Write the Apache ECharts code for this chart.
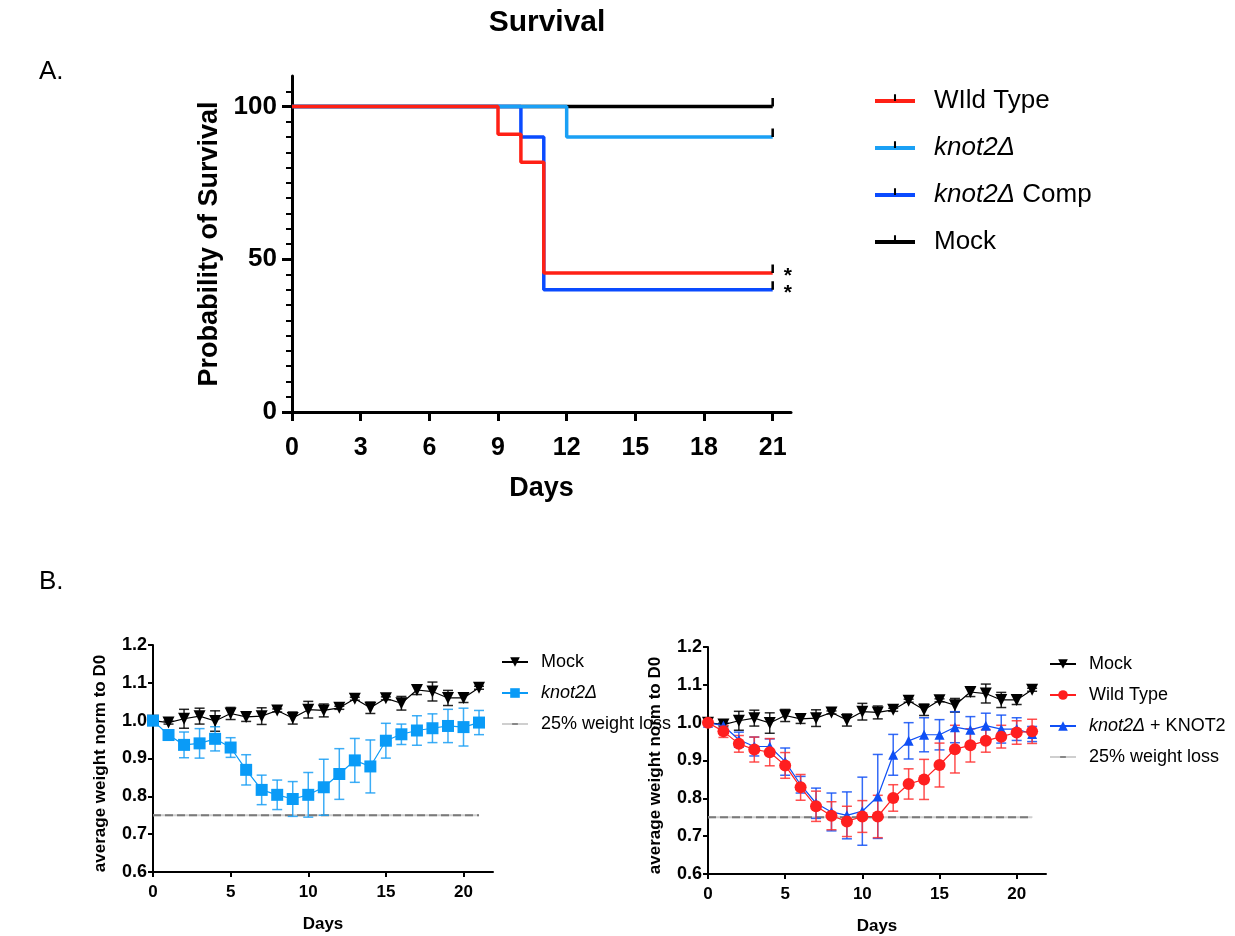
<!DOCTYPE html>
<html style="height: 100%">
<head>
<meta charset="utf-8">
<title>Survival</title>
<script src="https://cdn.jsdelivr.net/npm/echarts@6.0.0/dist/echarts.min.js"></script>
</head>
<body style="height: 100%; margin: 0; background: #fff">
<div id="container" style="width: 1235px; height: 936px"></div>
<script type="text/javascript">
// ---- A. survival (Kaplan-Meier steps) ----
var survTimesWT = [0, 9, 10, 11, 21];
var survWT = [100, 90.9, 81.8, 45.5, 45.5];
var survTimesKO = [0, 12, 21];
var survKO = [100, 90, 90];
var survTimesComp = [0, 10, 11, 21];
var survComp = [100, 90, 40, 40];
var survTimesMock = [0, 21];
var survMock = [100, 100];
var survDayTicks = [0, 3, 6, 9, 12, 15, 18, 21];
var survPctTicks = [0, 50, 100];

// ---- B. weight, normalised to day 0 ----
var days = [0, 1, 2, 3, 4, 5, 6, 7, 8, 9, 10, 11, 12, 13, 14, 15, 16, 17, 18, 19, 20, 21];
var mockMean = [1.000, 0.995, 1.005, 1.012, 0.999, 1.019, 1.010, 1.012, 1.027, 1.007, 1.029, 1.027, 1.034, 1.058, 1.034, 1.059, 1.046, 1.081, 1.077, 1.060, 1.060, 1.087];
var mockErr = [0, 0.004, 0.025, 0.021, 0.027, 0.016, 0.012, 0.022, 0.004, 0.016, 0.022, 0.017, 0.004, 0.004, 0.015, 0.004, 0.018, 0.012, 0.025, 0.020, 0.012, 0.004];
var koMean = [1.000, 0.962, 0.936, 0.940, 0.952, 0.929, 0.870, 0.817, 0.804, 0.793, 0.804, 0.824, 0.859, 0.895, 0.879, 0.947, 0.964, 0.974, 0.980, 0.986, 0.983, 0.995];
var koErr = [0, 0.013, 0.034, 0.039, 0.032, 0.026, 0.040, 0.039, 0.039, 0.046, 0.059, 0.074, 0.067, 0.058, 0.070, 0.046, 0.027, 0.039, 0.038, 0.044, 0.050, 0.032];
var wtMean = [1.000, 0.977, 0.944, 0.929, 0.922, 0.887, 0.829, 0.779, 0.754, 0.739, 0.752, 0.752, 0.801, 0.838, 0.850, 0.888, 0.930, 0.940, 0.952, 0.963, 0.974, 0.977];
var wtErr = [0, 0.016, 0.022, 0.033, 0.036, 0.034, 0.034, 0.040, 0.037, 0.040, 0.042, 0.056, 0.035, 0.040, 0.053, 0.058, 0.063, 0.044, 0.030, 0.030, 0.031, 0.032];
var compMean = [1.000, 0.992, 0.955, 0.937, 0.937, 0.897, 0.836, 0.787, 0.764, 0.755, 0.766, 0.805, 0.915, 0.952, 0.968, 0.968, 0.988, 0.981, 0.992, 0.983, 0.983, 0.970];
var compErr = [0, 0.006, 0.020, 0.025, 0.020, 0.036, 0.022, 0.040, 0.050, 0.062, 0.090, 0.111, 0.054, 0.048, 0.045, 0.040, 0.041, 0.035, 0.033, 0.037, 0.030, 0.020];
var lossDays = [0, 21];
var lossLevel = [0.75, 0.75];
var weightDayTicks = [0, 5, 10, 15, 20];

var labels = {
    sWT: 'WIld Type',
    sKO: '{i|knot2Δ}',
    sComp: '{i|knot2Δ} Comp',
    sMock: 'Mock',
    wMock: 'Mock',
    wKO: '{s|knot2Δ}',
    wWT: 'Wild Type',
    wComp: '{s|knot2Δ} + KNOT2',
    wThr: '25% weight loss'
};

var FONT = 'Liberation Sans, Arial, Helvetica, sans-serif';
var tickPath = 'path://M8.5,0 L11.5,0 L11.5,10 L8.5,10 Z M0,19.99 L20,19.99 L20,20 L0,20 Z';
var dashPath = 'path://M4,8.5 L16,8.5 L16,11.5 L4,11.5 Z M0,0 L20,0 L20,0.01 L0,0.01 Z M0,19.99 L20,19.99 L20,20 L0,20 Z';

function kmData(times, vals) {
    return times.map(function (t, i) {
        var item = { value: [t, vals[i]] };
        if (i < times.length - 1) item.symbol = 'none';
        return item;
    });
}

function kmSeries(name, times, vals, color, star) {
    return {
        name: name,
        type: 'line',
        step: 'end',
        xAxisIndex: 0,
        yAxisIndex: 0,
        data: kmData(times, vals),
        symbol: tickPath,
        symbolSize: 17,
        showSymbol: true,
        lineStyle: { color: color, width: 3.5 },
        itemStyle: { color: '#000', borderWidth: 0 },
        endLabel: {
            show: star,
            formatter: '*',
            fontFamily: FONT,
            fontWeight: 'bold',
            fontSize: 21,
            color: '#000',
            distance: 11,
            offset: [0, 3]
        },
        emphasis: { disabled: true },
        z: 3
    };
}

function pairs(xs, ys) {
    return xs.map(function (x, i) { return [x, ys[i]]; });
}

function errData(xs, m, e) {
    return xs.map(function (x, i) { return [x, m[i] - e[i], m[i] + e[i]]; });
}

function errSeries(name, idx, m, e, color) {
    return {
        name: name,
        type: 'custom',
        xAxisIndex: idx,
        yAxisIndex: idx,
        data: errData(days, m, e),
        itemStyle: { color: color },
        renderItem: function (params, api) {
            var x = api.value(0), lo = api.value(1), hi = api.value(2);
            if (hi - lo < 0.002) return;
            var a = api.coord([x, hi]), b = api.coord([x, lo]);
            var w = 5;
            var st = { stroke: color, lineWidth: 1.5, opacity: 0.85 };
            return {
                type: 'group',
                children: [
                    { type: 'line', shape: { x1: a[0], y1: a[1], x2: b[0], y2: b[1] }, style: st },
                    { type: 'line', shape: { x1: a[0] - w, y1: a[1], x2: a[0] + w, y2: a[1] }, style: st },
                    { type: 'line', shape: { x1: b[0] - w, y1: b[1], x2: b[0] + w, y2: b[1] }, style: st }
                ]
            };
        },
        z: 2
    };
}

function meanSeries(name, idx, m, color, symbol, size, rotate) {
    return {
        name: name,
        type: 'line',
        xAxisIndex: idx,
        yAxisIndex: idx,
        data: pairs(days, m),
        symbol: symbol,
        symbolSize: size,
        symbolRotate: rotate || 0,
        showSymbol: true,
        lineStyle: { color: color, width: 1.2 },
        itemStyle: { color: color, borderWidth: 0 },
        emphasis: { disabled: true },
        z: 4
    };
}

// light solid line under dark dashes, like the reference
function lossSeries(idx) {
    return [{
        name: 'wThr',
        type: 'line',
        xAxisIndex: idx,
        yAxisIndex: idx,
        data: pairs(lossDays, lossLevel),
        symbol: dashPath,
        showSymbol: false,
        lineStyle: { color: '#cfcfcf', width: 2 },
        itemStyle: { color: '#707070', borderWidth: 0 },
        emphasis: { disabled: true },
        z: 1
    }, {
        name: 'wThrDash',
        type: 'line',
        xAxisIndex: idx,
        yAxisIndex: idx,
        data: pairs(lossDays, lossLevel),
        symbol: 'none',
        lineStyle: { color: '#7a7a7a', width: 2, type: [8, 4] },
        emphasis: { disabled: true },
        z: 1
    }];
}

function weightX(grid) {
    return {
        type: 'value', gridIndex: grid, min: 0, max: 21.9,
        name: 'Days', nameLocation: 'middle', nameGap: 44,
        nameTextStyle: { fontFamily: FONT, fontWeight: 'bold', fontSize: 17, color: '#000' },
        axisLine: { lineStyle: { color: '#000', width: 2 } },
        axisTick: { customValues: weightDayTicks, length: 5, lineStyle: { width: 2 } },
        axisLabel: { customValues: weightDayTicks, fontFamily: FONT, fontWeight: 'bold', fontSize: 17, color: '#000', margin: 12 },
        splitLine: { show: false }
    };
}

function weightY(grid) {
    return {
        type: 'value', gridIndex: grid, min: 0.6, max: 1.2, interval: 0.1,
        name: 'average weight norm to D0', nameLocation: 'middle', nameGap: 44,
        nameTextStyle: { fontFamily: FONT, fontWeight: 'bold', fontSize: 17, color: '#000', padding: [0, 10, 0, 0] },
        axisLine: { show: true, lineStyle: { color: '#000', width: 2 } },
        axisTick: { show: true, length: 5, lineStyle: { width: 2 } },
        axisLabel: {
            fontFamily: FONT, fontWeight: 'bold', fontSize: 18, color: '#000', margin: 6,
            formatter: function (v) { return v.toFixed(1); }
        },
        splitLine: { show: false }
    };
}

var legendFormatter = function (name) { return labels[name]; };

function smallLegend(names, left, top) {
    return {
        data: names,
        orient: 'vertical', left: left, top: top,
        itemWidth: 26, itemHeight: 12, itemGap: 9,
        formatter: legendFormatter,
        selectedMode: false,
        textStyle: {
            fontFamily: FONT, fontSize: 18, color: '#000', lineHeight: 22, padding: [0, 0, 0, 8],
            rich: { s: { fontFamily: FONT, fontSize: 18, fontStyle: 'italic', color: '#000' } }
        }
    };
}

var chart = echarts.init(document.getElementById('container'), null, { renderer: 'canvas' });
chart.setOption({
    animation: false,
    backgroundColor: '#fff',
    graphic: [
        { type: 'text', x: 547, y: 23, style: { text: 'Survival', fill: '#000', font: 'bold 30px ' + FONT, textAlign: 'center', textVerticalAlign: 'middle' } },
        { type: 'text', x: 39, y: 72, style: { text: 'A.', fill: '#000', font: '26px ' + FONT, textAlign: 'left', textVerticalAlign: 'middle' } },
        { type: 'text', x: 39, y: 582, style: { text: 'B.', fill: '#000', font: '26px ' + FONT, textAlign: 'left', textVerticalAlign: 'middle' } }
    ],
    legend: [
        {
            data: ['sWT', 'sKO', 'sComp', 'sMock'],
            orient: 'vertical', left: 868, top: 80,
            itemWidth: 40, itemHeight: 17, itemGap: 15,
            formatter: legendFormatter,
            selectedMode: false,
            lineStyle: { width: 4 },
            textStyle: {
                fontFamily: FONT, fontSize: 26, color: '#000', lineHeight: 32, padding: [0, 0, 0, 14],
                rich: { i: { fontFamily: FONT, fontSize: 26, fontStyle: 'italic', color: '#000' } }
            }
        },
        smallLegend(['wMock', 'wKO', 'wThr'], 496, 646),
        smallLegend(['wMock', 'wWT', 'wComp', 'wThr'], 1044, 648)
    ],
    grid: [
        { left: 292, top: 76, width: 499, height: 336 },
        { left: 153, top: 645, width: 340, height: 227 },
        { left: 708, top: 647, width: 338, height: 227 }
    ],
    xAxis: [
        {
            type: 'value', gridIndex: 0, min: 0, max: 21.8,
            name: 'Days', nameLocation: 'middle', nameGap: 63,
            nameTextStyle: { fontFamily: FONT, fontWeight: 'bold', fontSize: 27, color: '#000' },
            axisLine: { lineStyle: { color: '#000', width: 3 } },
            axisTick: { customValues: survDayTicks, length: 9, lineStyle: { width: 3 } },
            axisLabel: { customValues: survDayTicks, fontFamily: FONT, fontWeight: 'bold', fontSize: 25, color: '#000', margin: 24 },
            splitLine: { show: false }
        },
        weightX(1),
        weightX(2)
    ],
    yAxis: [
        {
            type: 'value', gridIndex: 0, min: 0, max: 110, interval: 50,
            name: 'Probability of Survival', nameLocation: 'middle', nameGap: 69,
            nameTextStyle: { fontFamily: FONT, fontWeight: 'bold', fontSize: 27, color: '#000' },
            axisLine: { show: true, lineStyle: { color: '#000', width: 3 } },
            axisTick: { show: true, customValues: survPctTicks, length: 10, lineStyle: { width: 3 } },
            minorTick: { show: true, splitNumber: 10, length: 6, lineStyle: { color: '#000', width: 2 } },
            axisLabel: { customValues: survPctTicks, fontFamily: FONT, fontWeight: 'bold', fontSize: 26, color: '#000', margin: 15 },
            splitLine: { show: false },
            minorSplitLine: { show: false }
        },
        weightY(1),
        weightY(2)
    ],
    series: [
        kmSeries('sMock', survTimesMock, survMock, '#000000', false),
        kmSeries('sComp', survTimesComp, survComp, '#0a4bff', true),
        kmSeries('sKO', survTimesKO, survKO, '#1aa0f5', false),
        kmSeries('sWT', survTimesWT, survWT, '#ff2015', true),

        meanSeries('wMock', 1, mockMean, '#000', 'triangle', 12, 180),
        meanSeries('wKO', 1, koMean, '#0a9bf7', 'rect', 12),
        errSeries('eMock', 1, mockMean, mockErr, '#000'),
        errSeries('eKO', 1, koMean, koErr, '#1a9ff5')
    ].concat(lossSeries(1)).concat([
        meanSeries('wMock', 2, mockMean, '#000', 'triangle', 12, 180),
        meanSeries('wComp', 2, compMean, '#0f4ff5', 'triangle', 10),
        meanSeries('wWT', 2, wtMean, '#ff1f1f', 'circle', 12),
        errSeries('eMock', 2, mockMean, mockErr, '#000'),
        errSeries('eComp', 2, compMean, compErr, '#1050f5'),
        errSeries('eWT', 2, wtMean, wtErr, '#ff3030')
    ]).concat(lossSeries(2))
});
</script>
</body>
</html>
